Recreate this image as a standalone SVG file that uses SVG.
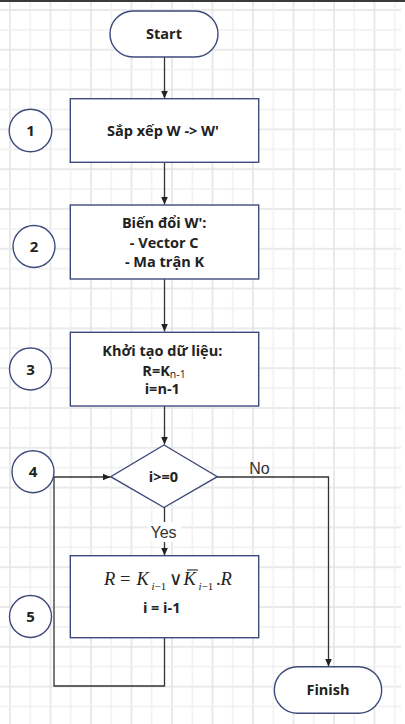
<svg xmlns="http://www.w3.org/2000/svg" width="405" height="724" viewBox="0 0 405 724">
<style>
.node{fill:#fff;stroke:#3f4a7c;stroke-width:1.4}
.lbl{font-family:"Open Sans","Liberation Sans",sans-serif;font-weight:700;font-size:14.5px;fill:#222;text-anchor:middle}
.edge{fill:none;stroke:#333;stroke-width:1.3}
.elbl{font-family:"Liberation Sans",Arial,sans-serif;font-size:16px;fill:#333}
.math{font-family:"Liberation Serif","DejaVu Serif","Times New Roman",serif;font-size:18.5px;fill:#222}
.num{font-family:"Open Sans","Liberation Sans",sans-serif;font-weight:700;font-size:15px;fill:#222;text-anchor:middle}
</style>
<defs>
<pattern id="grid" patternUnits="userSpaceOnUse" x="9" y="9" width="40.5" height="39.8">
<path d="M1 0V39.8M0 1H40.5" stroke="#e4e4e4" stroke-width="1.6" fill="none"/>
<path d="M21.25 0V39.8M0 20.9H40.5" stroke="#efefef" stroke-width="1.4" fill="none"/>
</pattern>
<marker id="arr" viewBox="0 0 8 8" refX="8" refY="4" markerWidth="8" markerHeight="8" markerUnits="userSpaceOnUse" orient="auto">
<path d="M0 0.5L8 4L0 7.5Z" fill="#222"/>
</marker>
</defs>
<rect x="0" y="0" width="405" height="724" fill="#fff"/>
<rect x="0" y="2" width="401" height="722" fill="url(#grid)"/>
<rect x="0" y="0" width="405" height="2" fill="#3a3a3a"/>

<g id="connectors">
<path class="edge" d="M164.5 57V98.5" marker-end="url(#arr)"/>
<path class="edge" d="M164.5 162V204.5" marker-end="url(#arr)"/>
<path class="edge" d="M164.5 279V331.5" marker-end="url(#arr)"/>
<path class="edge" d="M164.5 406V444.5" marker-end="url(#arr)"/>
<path class="edge" d="M164.5 507V555.5" marker-end="url(#arr)"/>
<path class="edge" d="M217 477H328.5V666.5" marker-end="url(#arr)"/>
<path class="edge" d="M164.5 637.5V686H54V477H110.5" marker-end="url(#arr)"/>
<rect x="147" y="522" width="34" height="20" fill="#fff"/>
<text class="elbl" x="163.5" y="538.3" text-anchor="middle">Yes</text>
<text class="elbl" x="249.3" y="474.3">No</text>
</g>

<g id="start">
<rect class="node" x="110" y="11" width="108" height="46" rx="23"/>
<text class="lbl" x="164" y="39">Start</text>
</g>

<g id="step1">
<rect class="node" x="70.3" y="98.7" width="188.4" height="63.6"/>
<text class="lbl" x="163" y="135.5">Sắp xếp W -&gt; W'</text>
</g>

<g id="step2">
<rect class="node" x="70.3" y="205" width="188.4" height="74"/>
<text class="lbl"><tspan x="164.2" y="228">Biến đổi W':</tspan><tspan x="164.2" y="247.5">- Vector C</tspan><tspan x="164.5" y="266.5">- Ma trận K</tspan></text>
</g>

<g id="step3">
<rect class="node" x="70.3" y="332.3" width="188.4" height="73.7"/>
<text class="lbl"><tspan x="162.3" y="355.5">Khởi tạo dữ liệu:</tspan></text>
<text class="lbl" x="164" y="375.5">R=K<tspan font-size="10.5px" font-weight="400" dy="2.5">n-1</tspan></text>
<text class="lbl" x="162.3" y="394">i=n-1</text>
</g>

<g id="decision">
<path class="node" d="M164 445L217.3 476.7L164 507.5L110.7 476.7Z"/>
<text class="lbl" x="163.5" y="481.5">i&gt;=0</text>
</g>

<g id="step5">
<rect class="node" x="70.3" y="555.7" width="188.4" height="82"/>
<text class="math"><tspan x="104" y="585" font-style="italic">R</tspan><tspan x="120">=</tspan><tspan x="136.5" font-style="italic">K</tspan><tspan x="151.5" y="589.5" font-size="11px" font-style="italic">i</tspan><tspan font-size="11px">−1</tspan><tspan x="169" y="585">∨</tspan><tspan x="183.5" font-style="italic">K</tspan><tspan x="198.5" y="589.5" font-size="11px" font-style="italic">i</tspan><tspan font-size="11px">−1</tspan><tspan x="216" y="585">.</tspan><tspan x="220.5" font-style="italic">R</tspan></text>
<line x1="187" y1="570" x2="198" y2="570" stroke="#222" stroke-width="1.1"/>
<text class="lbl" x="161.7" y="612.5">i = i-1</text>
</g>

<g id="finish">
<rect class="node" x="274.3" y="666.7" width="107.4" height="46.6" rx="23.3"/>
<text class="lbl" x="328" y="695">Finish</text>
</g>

<g id="num1"><circle class="node" cx="30.5" cy="130.5" r="21.3"/><text class="num" x="30.5" y="136">1</text></g>
<g id="num2"><circle class="node" cx="34" cy="246.5" r="21"/><text class="num" x="34" y="252">2</text></g>
<g id="num3"><circle class="node" cx="30.5" cy="369" r="21"/><text class="num" x="30.5" y="374.5">3</text></g>
<g id="num4"><circle class="node" cx="33" cy="471.7" r="21"/><text class="num" x="33" y="477">4</text></g>
<g id="num5"><circle class="node" cx="30.5" cy="616.5" r="21"/><text class="num" x="30.5" y="622">5</text></g>
</svg>
